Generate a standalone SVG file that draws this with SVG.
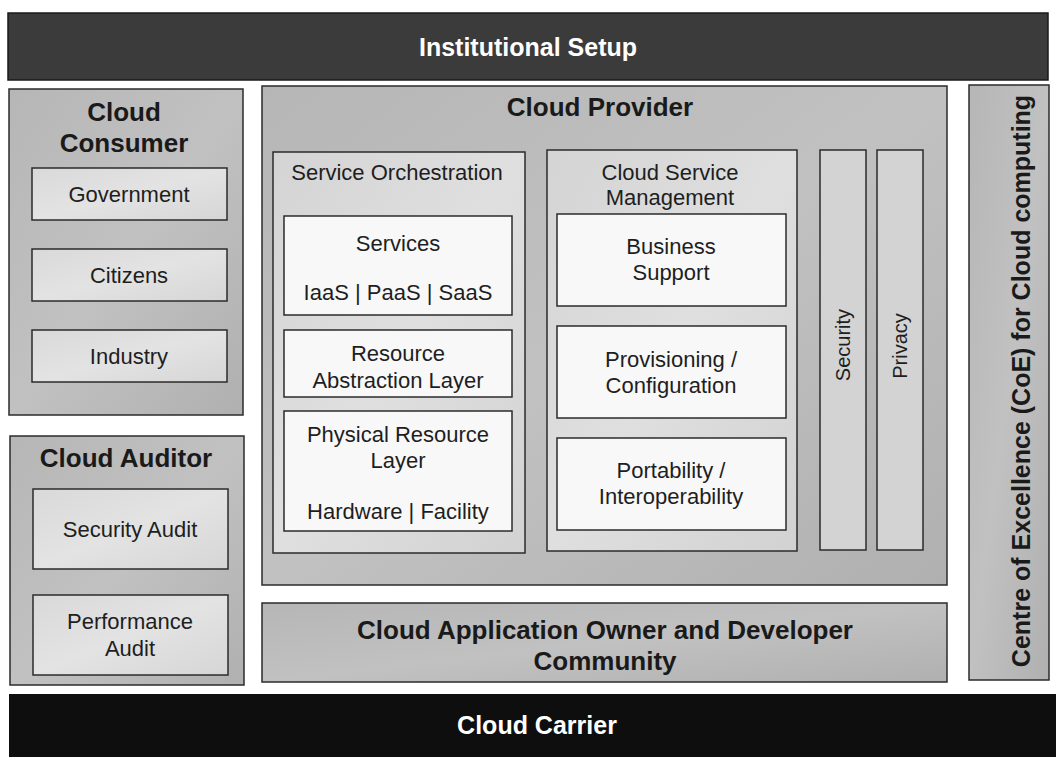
<svg xmlns="http://www.w3.org/2000/svg" width="1056" height="757" viewBox="0 0 1056 757">
  <defs>
    <linearGradient id="gOuter" x1="0" y1="0" x2="1" y2="1">
      <stop offset="0" stop-color="#b6b6b6"/>
      <stop offset="0.5" stop-color="#c1c1c1"/>
      <stop offset="1" stop-color="#b0b0b0"/>
    </linearGradient>
    <linearGradient id="gInner" x1="0" y1="0" x2="1" y2="1">
      <stop offset="0" stop-color="#d4d4d4"/>
      <stop offset="0.5" stop-color="#dfdfdf"/>
      <stop offset="1" stop-color="#d2d2d2"/>
    </linearGradient>
    <linearGradient id="gItem" x1="0" y1="0" x2="1" y2="1">
      <stop offset="0" stop-color="#d9d9d9"/>
      <stop offset="0.5" stop-color="#e3e3e3"/>
      <stop offset="1" stop-color="#d6d6d6"/>
    </linearGradient>
  </defs>
  <style>
    .outer { fill: url(#gOuter); stroke: #2b2b2b; stroke-width: 1.5; }
    .inner { fill: url(#gInner); stroke: #2b2b2b; stroke-width: 1.5; }
    .item { fill: url(#gItem); stroke: #2b2b2b; stroke-width: 1.5; }
    .white { fill: #f8f8f8; stroke: #2b2b2b; stroke-width: 1.5; }
    .band { fill: #d3d3d3; stroke: #2b2b2b; stroke-width: 1.5; }
    .title { font-family: "Liberation Sans", Arial, sans-serif; font-weight: bold; font-size: 26px; fill: #1a1a1a; text-anchor: middle; }
    .vtitle { font-size: 25px; }
    .bar { font-family: "Liberation Sans", Arial, sans-serif; font-weight: bold; font-size: 25px; fill: #ffffff; text-anchor: middle; }
    .lbl { font-family: "Liberation Sans", Arial, sans-serif; font-size: 22px; fill: #1e1e1e; text-anchor: middle; }
    .vlbl { font-family: "Liberation Sans", Arial, sans-serif; font-size: 20px; fill: #1e1e1e; text-anchor: middle; }
  </style>

  <rect width="1056" height="757" fill="#ffffff"/>

  <!-- top band -->
  <g id="institutional-setup">
    <rect x="8" y="13" width="1040" height="67" fill="#3b3b3b" stroke="#1a1a1a" stroke-width="1.5"/>
    <text class="bar" x="528" y="56">Institutional Setup</text>
  </g>

  <!-- consumers -->
  <g id="cloud-consumer">
    <rect class="outer" x="9" y="89" width="234" height="326"/>
    <text class="title" x="124" y="121">Cloud</text>
    <text class="title" x="124" y="152">Consumer</text>
  </g>
  <g id="government">
    <rect class="item" x="32" y="168" width="195" height="52"/>
    <text class="lbl" x="129" y="202">Government</text>
  </g>
  <g id="citizens">
    <rect class="item" x="32" y="249" width="195" height="52"/>
    <text class="lbl" x="129" y="283">Citizens</text>
  </g>
  <g id="industry">
    <rect class="item" x="32" y="330" width="195" height="52"/>
    <text class="lbl" x="129" y="364">Industry</text>
  </g>

  <!-- auditor -->
  <g id="cloud-auditor">
    <rect class="outer" x="10" y="436" width="234" height="249"/>
    <text class="title" x="126" y="467">Cloud Auditor</text>
  </g>
  <g id="security-audit">
    <rect class="item" x="33" y="489" width="195" height="80"/>
    <text class="lbl" x="130" y="537">Security Audit</text>
  </g>
  <g id="performance-audit">
    <rect class="item" x="33" y="595" width="195" height="80"/>
    <text class="lbl" x="130" y="629">Performance</text>
    <text class="lbl" x="130" y="656">Audit</text>
  </g>

  <!-- provider -->
  <g id="cloud-provider">
    <rect class="outer" x="262" y="86" width="685" height="499"/>
    <text class="title" x="600" y="116">Cloud Provider</text>
  </g>

  <g id="service-orchestration">
    <rect class="inner" x="273" y="152" width="252" height="401"/>
    <text class="lbl" x="397" y="180">Service Orchestration</text>
  </g>
  <g id="services">
    <rect class="white" x="284" y="216" width="228" height="99"/>
    <text class="lbl" x="398" y="251">Services</text>
    <text class="lbl" x="398" y="300">IaaS | PaaS | SaaS</text>
  </g>
  <g id="resource-abstraction">
    <rect class="white" x="284" y="330" width="228" height="67"/>
    <text class="lbl" x="398" y="361">Resource</text>
    <text class="lbl" x="398" y="388">Abstraction Layer</text>
  </g>
  <g id="physical-resource">
    <rect class="white" x="284" y="411" width="228" height="120"/>
    <text class="lbl" x="398" y="442">Physical Resource</text>
    <text class="lbl" x="398" y="468">Layer</text>
    <text class="lbl" x="398" y="519">Hardware | Facility</text>
  </g>

  <g id="cloud-service-management">
    <rect class="inner" x="547" y="150" width="250" height="401"/>
    <text class="lbl" x="670" y="180">Cloud Service</text>
    <text class="lbl" x="670" y="205">Management</text>
  </g>
  <g id="business-support">
    <rect class="white" x="557" y="214" width="229" height="92"/>
    <text class="lbl" x="671" y="254">Business</text>
    <text class="lbl" x="671" y="280">Support</text>
  </g>
  <g id="provisioning">
    <rect class="white" x="557" y="326" width="229" height="92"/>
    <text class="lbl" x="671" y="367">Provisioning /</text>
    <text class="lbl" x="671" y="393">Configuration</text>
  </g>
  <g id="portability">
    <rect class="white" x="557" y="438" width="229" height="92"/>
    <text class="lbl" x="671" y="478">Portability /</text>
    <text class="lbl" x="671" y="504">Interoperability</text>
  </g>

  <g id="security">
    <rect class="band" x="820" y="150" width="46" height="400"/>
    <text class="vlbl" transform="translate(850 345) rotate(-90)">Security</text>
  </g>
  <g id="privacy">
    <rect class="band" x="877" y="150" width="46" height="400"/>
    <text class="vlbl" transform="translate(907 346) rotate(-90)">Privacy</text>
  </g>

  <!-- application owners -->
  <g id="app-owner-community">
    <rect class="outer" x="262" y="603" width="685" height="79"/>
    <text class="title" x="605" y="639">Cloud Application Owner and Developer</text>
    <text class="title" x="605" y="670">Community</text>
  </g>

  <!-- centre of excellence -->
  <g id="centre-of-excellence">
    <rect class="outer" x="969" y="85" width="80" height="595"/>
    <text class="title vtitle" transform="translate(1030 381) rotate(-90)">Centre of Excellence (CoE) for Cloud computing</text>
  </g>

  <!-- bottom band -->
  <g id="cloud-carrier">
    <rect x="9" y="694" width="1047" height="63" fill="#0e0e0e"/>
    <text class="bar" x="537" y="734">Cloud Carrier</text>
  </g>

  <g id="connectors"/>
</svg>
